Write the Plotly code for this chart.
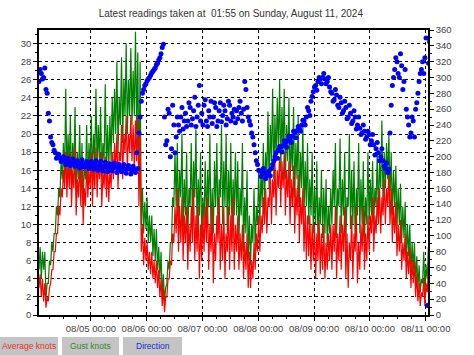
import pandas as pd
import plotly.graph_objects as go

# ---- data: hourly low / high readings ----
start_time = "2024-08-04 01:40"
n_hours = 169

avg_lo = [
    3, 2, 1.5, 0.8, 1.5,
    3.5, 5, 7, 9, 11, 13,
    14, 13, 14, 12, 14, 11, 13, 12, 10, 12, 13,
    14, 12, 14, 13, 15, 12, 14, 13, 12.5, 14,
    15, 16, 14, 17, 15, 18, 16, 18, 17, 16,
    17, 12,
    7, 5.5, 6, 5, 4.5, 4, 3.5, 3, 2, 1, 0.3,
    2, 4, 5.5, 8,
    9, 7, 8, 6, 8, 5, 7, 8, 6, 7, 4, 6, 7, 8, 5, 7, 3.5, 6, 8, 5, 6, 4, 7, 5, 7, 5,
    7, 5, 6, 4, 5, 3, 3, 4, 5, 7,
    7, 9, 10, 9, 12, 10, 13, 11, 14,
    12, 14, 11, 13, 10, 12, 9, 11, 8, 10,
    7, 6, 6.5, 5, 6, 4, 6, 4.5, 5, 4, 5, 6,
    5, 7, 4, 6, 5, 7, 4, 3, 6, 4, 7, 3.5, 5, 7, 5, 6,
    7, 9, 7, 9, 10, 9, 11, 10, 12,
    10, 8, 9, 6.5, 7, 5, 6, 4, 4.5, 3, 3.5, 2, 1.5, 1,
    2, 1, 2.5, 1.5,
]
avg_hi = [
    4.5, 4, 3.5, 2, 3,
    5, 7, 9, 12, 14, 16,
    18, 17, 18, 16, 18.5, 15, 17, 17, 14, 17, 16,
    18, 17, 18.5, 17, 18, 16, 17.5, 17, 16, 18,
    19, 20, 18, 21, 20, 22, 20, 22, 21, 21.5,
    22, 20,
    10, 8.5, 8, 7, 7, 6, 6, 5, 4, 3, 2,
    4, 6, 9, 12,
    14, 12, 13, 11, 12, 10, 12, 14, 11, 12, 10, 11, 12, 13, 10, 12, 9, 11, 13, 10, 12, 9, 12, 11, 13, 10,
    11, 9, 10, 8, 9, 7, 6, 8, 9, 11,
    11, 13, 14, 13, 16, 15, 17, 16, 17.5,
    17, 18, 16, 17, 15, 16.5, 14, 15.5, 13, 14,
    12, 11, 11, 10, 10, 9, 10.5, 9, 10, 8, 9, 10,
    10, 12, 9, 11, 10, 12, 9, 8, 11, 9, 12, 8, 10, 12, 9, 11,
    11, 13, 11, 13, 14, 13, 15, 14, 16,
    14, 12, 12.5, 10, 10.5, 8, 9, 7, 7.5, 6, 6, 4.5, 3.5, 2.5,
    4, 3.5, 5, 4,
]
gust_lo = [
    5, 4, 5, 1.8, 3.5,
    5.5, 7, 9, 11, 13, 15,
    15, 15, 16, 14, 16, 13, 15, 14, 12, 15, 14,
    16, 15, 17, 16, 17, 15, 17, 16, 16, 17,
    19, 20, 18, 21, 19, 22, 20, 22, 21, 22,
    20, 14,
    10, 9, 9.5, 8, 8, 6.5, 6, 5, 4, 2, 1.5,
    3.5, 5, 8, 12,
    12, 10, 13, 9, 11, 8, 12, 10, 13, 9, 11, 8, 10, 10, 12, 8, 9, 12, 9, 13, 10, 12, 9, 11, 9, 11,
    11, 8, 11, 7, 9, 6, 5.5, 8, 7, 10,
    10, 12, 12, 15, 14, 17, 15, 17, 18,
    16, 18, 15, 17, 14, 16, 13, 15, 12, 14,
    11, 12, 10, 11, 9, 10, 8, 10, 8.5, 9, 7.5, 9,
    10, 12, 8.5, 12, 9, 11, 8, 12, 9.5, 10, 8, 11, 9, 10, 8, 10,
    10, 11, 10, 12, 11, 14, 12, 14, 15,
    13, 11, 12, 9.5, 10, 8, 8.5, 6, 6.5, 4.5, 5, 3.5, 3, 2.5,
    3.5, 2.5, 4, 3,
]
gust_hi = [
    7.5, 7, 7, 3.5, 6,
    8, 9, 12, 14, 17, 19,
    25, 20, 22, 19, 23, 18, 21, 19, 17, 21, 19,
    22, 20, 25, 21, 23, 19, 25.5, 21, 22, 24,
    25, 28, 24, 28.5, 26, 30, 26, 29.5, 27, 31.3,
    29, 28,
    14, 12.5, 13, 11, 11, 9.5, 9.5, 7.5, 7, 4.5, 3,
    6, 8, 13, 18,
    19, 16, 20, 15, 18, 14, 19, 17, 20.5, 15, 18, 13, 17, 16, 20, 14, 17, 19, 15, 21, 17, 20, 16, 19, 15, 18,
    17, 14, 19, 13, 16, 11, 10, 14, 12, 16,
    16, 19, 18, 22.5, 21, 25, 22, 24, 26,
    23, 25, 21, 24, 20, 23, 19, 22, 18, 21,
    17, 19, 15, 18, 14, 17, 13, 16, 14, 15, 12, 14,
    16, 19, 14, 19.5, 15, 18, 13, 20, 16, 17, 14, 19, 15, 17, 13, 18,
    15, 17, 14, 18, 17, 21.5, 18, 19, 20,
    18, 16, 16.5, 14, 14.5, 12, 12.5, 10, 10, 8, 8, 6.5, 5.5, 4,
    7, 5.5, 7.5, 6.5,
]
# direction readings on the hour and on the half hour
direction_on_hour = [
    295, 305, 300, 285, 255, 225, 215,
    205, 200, 198, 196, 195, 193, 194, 192, 193, 191, 190, 192, 190, 191, 189,
    190, 189, 191, 188, 189, 187, 188, 187, 186, 188, 186, 187, 186, 185, 186, 184, 185, 184, 183, 184,
    205, 230, 270, 285, 292, 298, 303, 308, 312, 318, 325, 338, 250,
    220, 255, 210, 240, 225,
    240, 250, 235, 255, 245, 262, 248, 275, 250, 290, 255, 265, 245, 258, 270, 250, 262, 245, 268, 252, 258, 248, 265, 255, 260,
    258, 262, 255, 260, 285, 250, 240, 225, 205, 190,
    182, 178, 180, 176, 182, 185,
    195, 205, 208, 212, 214, 218, 220, 222, 226, 230, 233, 236, 240,
    245, 250, 258, 270, 282, 290, 295, 298, 300, 298, 295, 288,
    280, 272, 278, 262, 268, 258, 262, 250, 255, 245, 250, 240, 236, 230, 232, 225,
    228, 220, 215, 210, 205, 200, 195, 185, 180,
    230, 290, 310, 320, 300, 315, 295, 260, 240, 230, 245, 260, 280, 305, 320, 325, 12, 345,
]
direction_half_hour = [
    310, 298, 312, 280, 245, 218, 208,
    198, 203, 194, 200, 190, 198, 189, 197, 188, 195, 186, 196, 187, 194, 185,
    194, 184, 195, 183, 194, 182, 193, 181, 191, 182, 192, 180, 190, 181, 190, 179, 189, 178, 188, 180,
    185, 250, 280, 290, 296, 300, 306, 310, 316, 322, 330, 342, 215,
    260, 200, 265, 205, 250,
    232, 262, 245, 238, 268, 240, 258, 238, 265, 245, 240, 272, 238, 250, 242, 268, 238, 258, 244, 265, 240, 270, 245, 250, 243,
    248, 270, 245, 295, 262, 245, 230, 215, 195, 183,
    175, 185, 172, 180, 176, 190,
    200, 198, 213, 206, 220, 212, 226, 218, 232, 224, 238, 232, 246,
    240, 262, 252, 276, 288, 284, 300, 292, 305, 292, 300, 282,
    270, 285, 265, 275, 255, 270, 248, 265, 242, 258, 235, 250, 228, 240, 222, 232,
    215, 228, 202, 218, 195, 210, 188, 192, 184,
    265, 300, 325, 305, 330, 285, 310, 250, 225, 250, 225, 268, 295, 310, 305, 350, 318,
]

x_range = ["2024-08-04 01:40", "2024-08-11 01:00"]
day_ticks = ["2024-08-05", "2024-08-06", "2024-08-07", "2024-08-08",
             "2024-08-09", "2024-08-10", "2024-08-11"]
day_labels = ["08/05 00:00", "08/06 00:00", "08/07 00:00", "08/08 00:00",
              "08/09 00:00", "08/10 00:00", "08/11 00:00"]

title_text = "Latest readings taken at \u00a001:55 on Sunday, August 11, 2024"
legend_names = ["Average knots", "Gust knots", "Direction"]
legend_colors = ["#e8312f", "#2f8a2f", "#2626d9"]

hours = pd.date_range(start_time, periods=n_hours, freq="h")
half_hours = hours[:len(direction_half_hour)] + pd.Timedelta(minutes=30)


def interleave(times_a, vals_a, times_b, vals_b):
    xs, ys = [], []
    for i in range(len(times_a)):
        xs.append(times_a[i]); ys.append(vals_a[i])
        if i < len(times_b):
            xs.append(times_b[i]); ys.append(vals_b[i])
    return xs, ys


lo_times = hours
hi_times = hours + pd.Timedelta(minutes=30)
gx, gy = interleave(lo_times, gust_lo, hi_times, gust_hi)
ax_, ay_ = interleave(lo_times, avg_lo, hi_times, avg_hi)

fig = go.Figure()
fig.add_trace(go.Scatter(x=gx, y=gy, mode="lines",
                         line=dict(color="#008000", width=1.2), name="Gust knots"))
fig.add_trace(go.Scatter(x=ax_, y=ay_, mode="lines",
                         line=dict(color="#ff0000", width=1.2), name="Average knots"))
for t, d in ((hours, direction_on_hour), (half_hours, direction_half_hour)):
    fig.add_trace(go.Scatter(x=t, y=d, mode="markers", yaxis="y2",
                             marker=dict(color="#0000ff", size=5, line=dict(width=0)),
                             name="Direction"))

tick_font = dict(family="Liberation Sans, Arial, sans-serif", size=9.5, color="#444444")

fig.update_layout(
    width=474, height=355,
    margin=dict(l=39, r=46, t=30, b=40),
    paper_bgcolor="white", plot_bgcolor="white",
    showlegend=False,
    title=dict(text=title_text, x=0.487, xanchor="center", y=0.962, yanchor="middle",
               font=dict(family="Liberation Sans, Arial, sans-serif", size=10, color="#333333")),
    xaxis=dict(range=x_range, type="date", tickvals=day_ticks, ticktext=day_labels,
               showgrid=True, gridcolor="#000000", griddash="dot", gridwidth=1,
               showline=True, linecolor="#000000", linewidth=1.5, mirror=True,
               ticks="outside", ticklen=4, tickcolor="#000000",
               minor=dict(dtick=6 * 3600 * 1000, ticks="outside", ticklen=2, tickcolor="#000000",
                          showgrid=False),
               tickfont=tick_font, zeroline=False),
    yaxis=dict(range=[0, 31.5], dtick=2, tick0=0,
               showgrid=True, gridcolor="#000000", griddash="dot", gridwidth=1,
               showline=True, linecolor="#000000", linewidth=1.5,
               ticks="outside", ticklen=4, tickcolor="#000000",
               minor=dict(dtick=1, ticks="outside", ticklen=2, tickcolor="#000000", showgrid=False),
               tickfont=tick_font, zeroline=False),
    yaxis2=dict(range=[0, 360], dtick=20, tick0=0, overlaying="y", side="right",
                showgrid=False, showline=True, linecolor="#000000", linewidth=1.5,
                ticks="outside", ticklen=4, tickcolor="#000000",
                minor=dict(dtick=10, ticks="outside", ticklen=2, tickcolor="#000000"),
                tickfont=tick_font, zeroline=False),
)

# legend "buttons" below the plot (pixel positions converted to paper coords)
plot_w, plot_h, left, plot_bottom = 389.0, 285.0, 39.0, 315.0
boxes = [(0, 58), (62, 119), (123, 182)]
for (x0, x1), name, col in zip(boxes, legend_names, legend_colors):
    px0 = (x0 - left) / plot_w
    px1 = (x1 - left) / plot_w
    py0 = -(355 - plot_bottom) / plot_h
    py1 = -(337 - plot_bottom) / plot_h
    fig.add_shape(type="rect", xref="paper", yref="paper", x0=px0, x1=px1, y0=py0, y1=py1,
                  fillcolor="#c4c4c4", line=dict(width=0), layer="below")
    fig.add_annotation(xref="paper", yref="paper", x=(px0 + px1) / 2, y=(py0 + py1) / 2,
                       text=name, showarrow=False, xanchor="center", yanchor="middle",
                       font=dict(family="Liberation Sans, Arial, sans-serif", size=8.5, color=col))

fig.write_html("out.html", config={"displayModeBar": False},
               post_script="document.body.style.margin='0';document.body.style.padding='0';")
